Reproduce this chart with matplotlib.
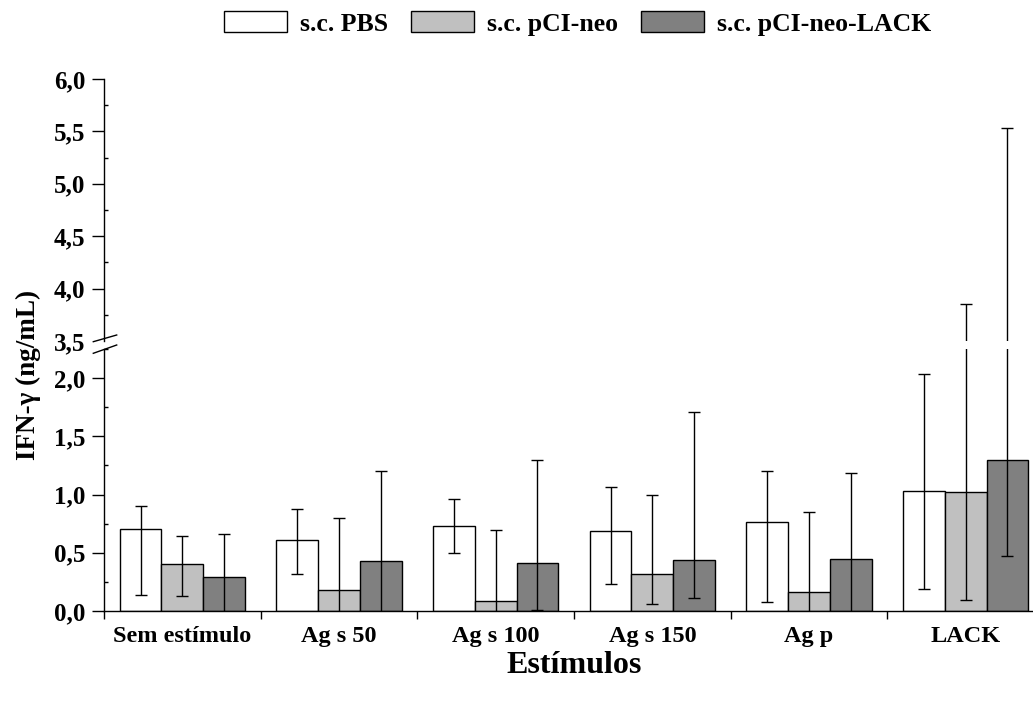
import numpy as np
import matplotlib
matplotlib.use('Agg')
import matplotlib.pyplot as plt
from matplotlib.lines import Line2D
from matplotlib.ticker import FixedLocator, FuncFormatter, MultipleLocator

plt.rcParams['font.family'] = ['Liberation Serif', 'DejaVu Serif']
plt.rcParams['font.weight'] = 'bold'

# estímulos e grupos
categories = ['Sem estímulo', 'Ag s 50', 'Ag s 100', 'Ag s 150', 'Ag p', 'LACK']
groups = ['s.c. PBS', 's.c. pCI-neo', 's.c. pCI-neo-LACK']
colors = ['white', '#c0c0c0', '#808080']

# IFN-gamma (ng/mL): média, limite superior e inferior da barra de erro
pbs_mean = [0.70, 0.607, 0.730, 0.687, 0.760, 1.030]
pbs_high = [0.904, 0.876, 0.964, 1.068, 1.202, 2.034]
pbs_low = [0.137, 0.318, 0.498, 0.235, 0.076, 0.191]

neo_mean = [0.40, 0.178, 0.088, 0.315, 0.162, 1.020]
neo_high = [0.641, 0.796, 0.695, 0.992, 0.852, 3.856]
neo_low = [0.131, -0.10, -0.10, 0.060, -0.10, 0.095]

lack_mean = [0.289, 0.427, 0.409, 0.442, 0.445, 1.300]
lack_high = [0.664, 1.202, 1.293, 1.710, 1.189, 5.531]
lack_low = [-0.10, -0.10, 0.011, 0.111, -0.10, 0.470]

means = [pbs_mean, neo_mean, lack_mean]
highs = [pbs_high, neo_high, lack_high]
lows = [pbs_low, neo_low, lack_low]

fig = plt.figure(figsize=(10.33, 7.06), dpi=100)
ax_low = fig.add_axes([0.1007, 0.1346, 0.8993, 0.3711])
ax_up = fig.add_axes([0.1007, 0.5170, 0.8993, 0.3711])

x = np.arange(len(categories))
w = 0.8 / 3

handles = []
for ax in (ax_low, ax_up):
    for i in range(3):
        m = np.array(means[i])
        yerr = [m - np.array(lows[i]), np.array(highs[i]) - m]
        pos = x + (i - 1) * w
        b = ax.bar(pos, m, width=w, color=colors[i], edgecolor='black',
                   linewidth=1.0, zorder=2, label=groups[i])
        ax.errorbar(pos, m, yerr=yerr, fmt='none', ecolor='black',
                    elinewidth=1.0, capsize=4.5, capthick=1.0, zorder=3)
        if ax is ax_low:
            handles.append(b)

comma = FuncFormatter(lambda v, p: ('%.1f' % v).replace('.', ','))

ax_low.set_ylim(0, 2.25)
ax_low.set_xlim(-0.5, 5.43)
ax_low.yaxis.set_major_locator(FixedLocator([0, 0.5, 1.0, 1.5, 2.0]))
ax_low.yaxis.set_minor_locator(MultipleLocator(0.25))
ax_low.yaxis.set_major_formatter(comma)
ax_low.set_xticks(np.arange(-0.5, 5.0, 1.0))
ax_low.set_xticklabels([])
ax_low.set_xticks(x, minor=True)
ax_low.set_xticklabels(categories, minor=True)
ax_low.tick_params(axis='x', which='minor', length=0, pad=11, labelsize=17.5)
ax_low.tick_params(axis='x', which='major', direction='out', length=6, width=1.0)
ax_low.spines['top'].set_visible(False)
ax_low.spines['right'].set_visible(False)

ax_up.set_ylim(3.5, 6.0)
ax_up.set_xlim(-0.5, 5.43)
ax_up.yaxis.set_major_locator(FixedLocator([3.5, 4.0, 4.5, 5.0, 5.5, 6.0]))
ax_up.yaxis.set_minor_locator(MultipleLocator(0.25))
ax_up.yaxis.set_major_formatter(comma)
ax_up.set_xticks([])
for s in ('top', 'right', 'bottom'):
    ax_up.spines[s].set_visible(False)
ax_up.yaxis.get_major_ticks()[0].tick1line.set_visible(False)

for ax in (ax_low, ax_up):
    ax.spines['left'].set_linewidth(1.0)
    ax.spines['bottom'].set_linewidth(1.0)
    ax.tick_params(axis='y', which='major', direction='out', length=8.5,
                   width=1.0, labelsize=18, pad=5)
    ax.tick_params(axis='y', which='minor', direction='in', length=3, width=1.0)

# marcas de quebra do eixo y
for y0, y1 in [(341.7, 335.0), (353.3, 345.0)]:
    fig.add_artist(Line2D([93.3 / 1033, 116.7 / 1033],
                          [1 - y0 / 706, 1 - y1 / 706],
                          color='black', lw=1.0))

fig.text(0.028, 0.469, 'IFN-γ (ng/mL)', rotation=90, ha='center',
         va='center', fontsize=19.5, fontweight='bold')
fig.text(0.556, 0.058, 'Estímulos', ha='center', va='center',
         fontsize=23, fontweight='bold')

fig.legend(handles=handles, labels=groups, loc='center', ncol=3,
           bbox_to_anchor=(0.559, 0.967), frameon=False, fontsize=18.5,
           handlelength=2.45, handleheight=0.9, handletextpad=0.5,
           columnspacing=0.9, borderaxespad=0)

fig.savefig('out.png', dpi=100)
